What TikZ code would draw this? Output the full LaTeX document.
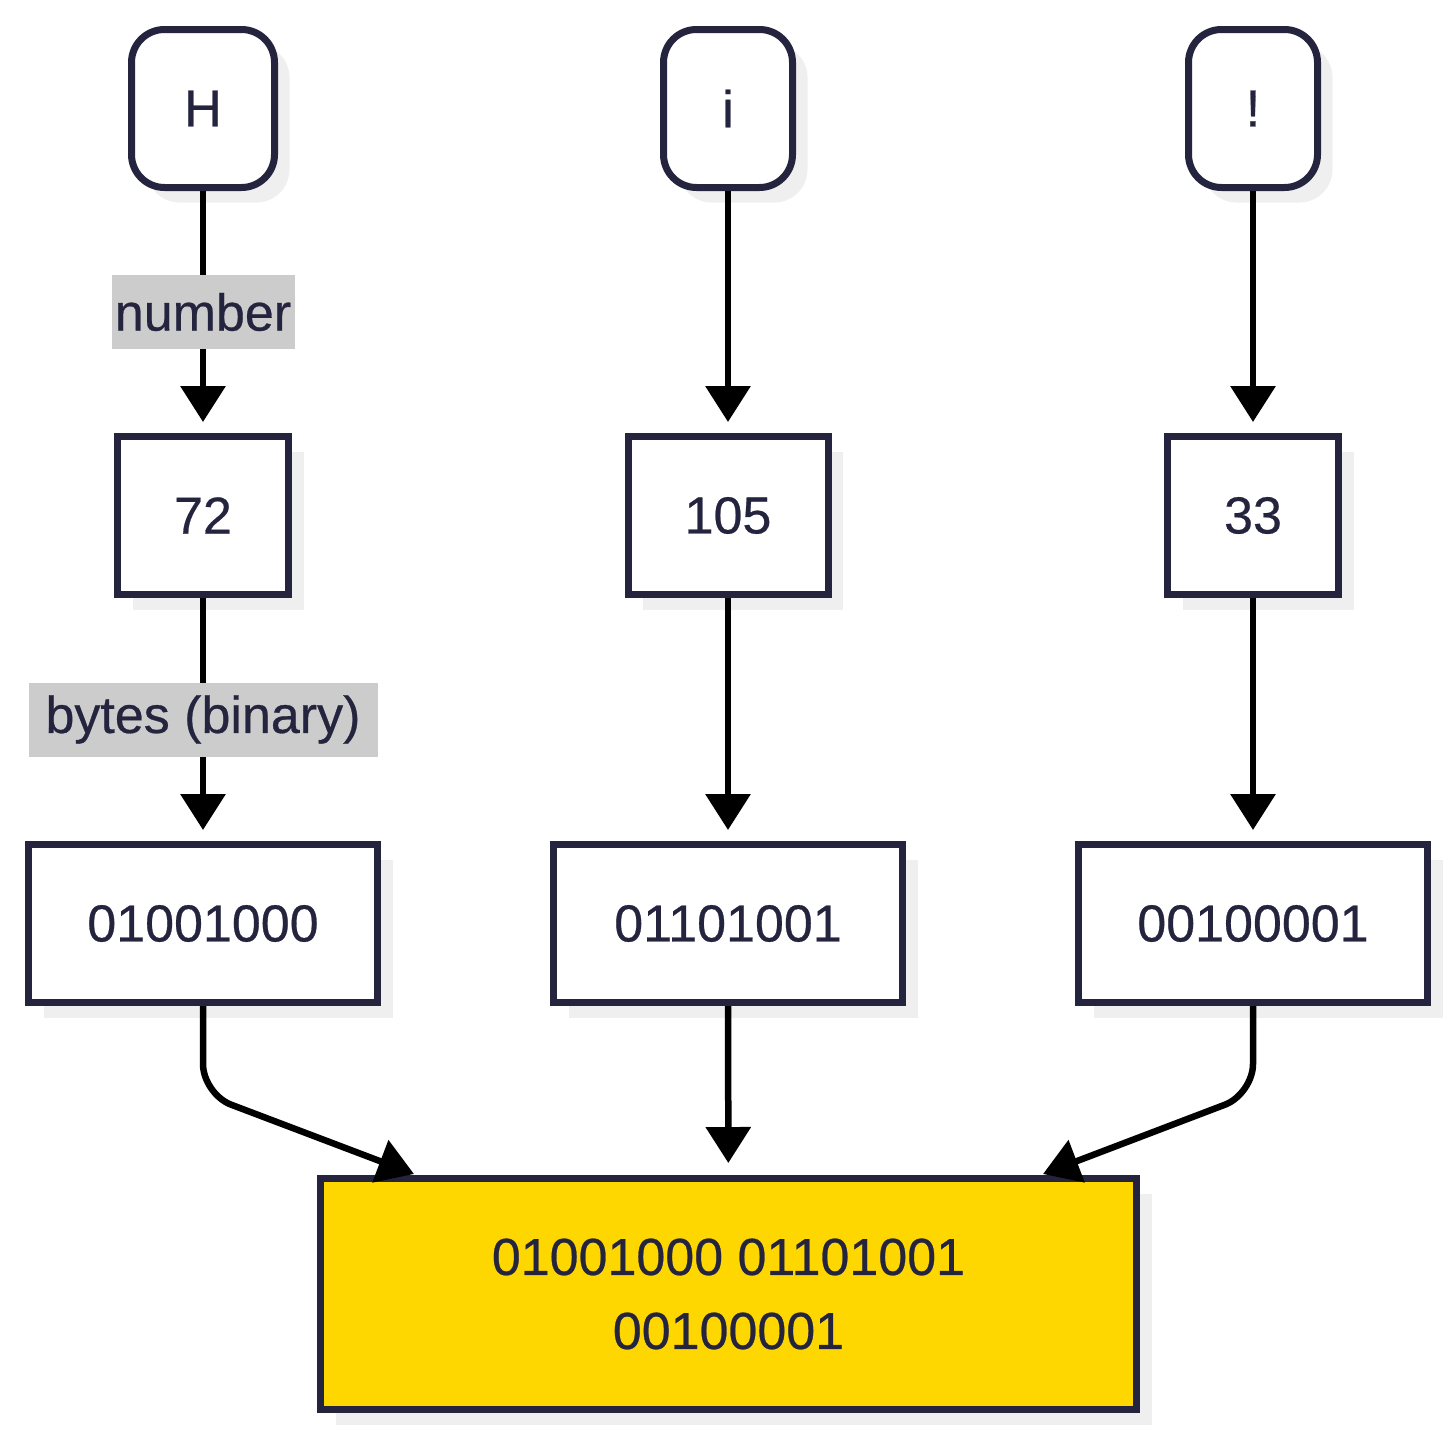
\documentclass[tikz,border=0pt]{standalone}
\usepackage{fontspec}
\setmainfont[FakeBold=0.5]{Liberation Sans}
\usetikzlibrary{arrows.meta,shadows}
\definecolor{ink}{RGB}{36,36,62}
\definecolor{shade}{RGB}{239,239,239}
\definecolor{lblbg}{RGB}{204,204,204}
\definecolor{goldfill}{RGB}{255,215,0}
\tikzset{
  box/.style={draw=ink, line width=7pt, fill=white, text=ink, inner sep=0pt,
    minimum height=158pt,
    drop shadow={shadow xshift=15pt, shadow yshift=-15pt, fill=shade, opacity=1}},
  charbox/.style={box, rounded corners=33pt},
  lbl/.style={fill=lblbg, text=ink, inner xsep=3pt, inner ysep=0pt, minimum height=74pt},
  edge/.style={draw=black, line width=6.5pt, -{Triangle[length=36pt,width=44pt]}},
}
\begin{document}
\begin{tikzpicture}[x=1pt, y=-1pt, font=\fontsize{52}{74}\selectfont]
\useasboundingbox (0,0) rectangle (1456,1440);

% top row
\node[charbox, minimum width=143pt] (cH) at (203,108.5) {H};
\node[charbox, minimum width=129pt] (ci) at (728,108.5) {i};
\node[charbox, minimum width=129pt] (cx) at (1253,108.5) {!};

% numbers
\node[box, minimum width=171pt] (n72) at (203,515.5) {72};
\node[box, minimum width=200pt] (n105) at (728,515.5) {105};
\node[box, minimum width=171pt] (n33) at (1253,515.5) {33};

% bytes
\node[box, minimum width=349pt] (b1) at (203,923.5) {01001000};
\node[box, minimum width=349pt] (b2) at (728,923.5) {01101001};
\node[box, minimum width=349pt] (b3) at (1253,923.5) {00100001};

% result
\node[box, fill=goldfill, minimum width=816pt, minimum height=231pt, align=center]
  (fin) at (728.5,1294) {01001000 01101001\\00100001};

% edges
\draw[edge, shorten >=11pt] (cH) -- node[lbl, minimum width=183pt] {number} (n72);
\draw[edge, shorten >=11pt] (ci) -- (n105);
\draw[edge, shorten >=11pt] (cx) -- (n33);

\draw[edge, shorten >=11pt] (n72) -- node[lbl, minimum width=349pt] {bytes (binary)} (b1);
\draw[edge, shorten >=11pt] (n105) -- (b2);
\draw[edge, shorten >=11pt] (n33) -- (b3);

\coordinate (k1) at (203,1094);
\coordinate (t1) at (414,1174);
\coordinate (k3) at (1253,1094);
\coordinate (t3) at (1043,1174);
\draw[edge, rounded corners=30pt] (b1) -- (k1) -- (t1);
\draw[edge, shorten >=12pt] (b2) -- (fin);
\draw[edge, rounded corners=30pt] (b3) -- (k3) -- (t3);
\end{tikzpicture}
\end{document}
